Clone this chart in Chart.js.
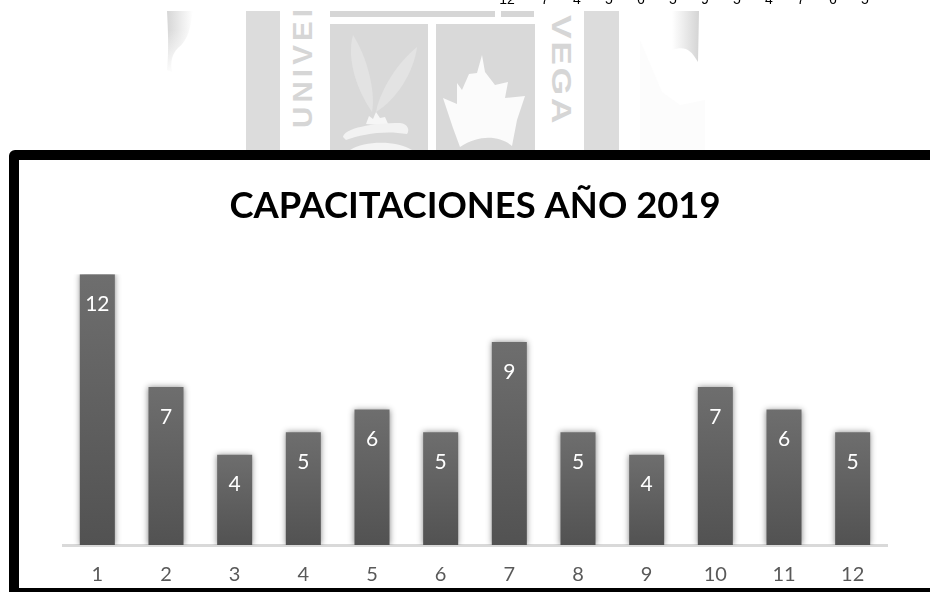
<!DOCTYPE html>
<html lang="es">
<head>
<meta charset="utf-8">
<title>Capacitaciones 2019</title>
<script src="https://cdn.jsdelivr.net/npm/chart.js@4/dist/chart.umd.min.js"></script>
<style>
    html, body { margin: 0; padding: 0; background: #fff; overflow: hidden; }
    #page { position: relative; width: 930px; height: 592px; overflow: hidden; }
    #crest { position: absolute; left: 0; top: 0; }
    #frame {
        position: absolute; left: 9px; top: 150px; width: 960px; height: 428px;
        border: 10px solid #000; border-radius: 6px; background: #fff;
    }
    #stockRow { position: absolute; left: 0; top: 0; width: 930px; height: 11px; will-change: transform; }
    #stockRow span {
        position: absolute; top: -8px; transform: translateX(-50%);
        font: 14px "Liberation Sans", sans-serif; color: #000; line-height: 14px;
    }
    #chartBox { position: absolute; left: 0; top: 0; width: 930px; height: 592px; }
</style>
</head>
<body>
<div id="page">
    <svg id="crest" width="930" height="592" xmlns="http://www.w3.org/2000/svg">
        <defs>
            <clipPath id="crestClip"><rect x="0" y="11" width="930" height="139"/></clipPath>
            <linearGradient id="ribbonL" x1="0" y1="0" x2="1" y2="0">
                <stop offset="0" stop-color="#d6d6d6"/>
                <stop offset="1" stop-color="#ffffff"/>
            </linearGradient>
            <linearGradient id="ribbonR" x1="0" y1="0" x2="1" y2="0">
                <stop offset="0" stop-color="#ffffff"/>
                <stop offset="1" stop-color="#d4d4d4"/>
            </linearGradient>
            <linearGradient id="fadeDown" x1="0" y1="0" x2="0" y2="1">
                <stop offset="0" stop-color="#ffffff" stop-opacity="0"/>
                <stop offset="1" stop-color="#ffffff" stop-opacity="1"/>
            </linearGradient>
        </defs>
        <g clip-path="url(#crestClip)">
            <path d="M167 11 H193 C190 30 188 40 178 48 C172 54 170 62 172 72 L167 70 C169 50 168 30 167 11 Z" fill="url(#ribbonL)"/>
            <rect x="160" y="30" width="40" height="45" fill="url(#fadeDown)"/>

            <path d="M640 40 L662 92 L680 105 L705 100 L705 150 L640 150 Z" fill="#fcfcfc"/>
            <path d="M672 11 H699 L698 62 C690 48 684 46 672 50 Z" fill="url(#ribbonR)"/>

            <rect x="246" y="11" width="34" height="139" fill="#dcdcdc"/>
            <rect x="584" y="11" width="35" height="139" fill="#dcdcdc"/>
            <rect x="330" y="11" width="165" height="6" fill="#d6d6d6"/>
            <rect x="501" y="11" width="33" height="6" fill="#d6d6d6"/>
            <rect x="330" y="24" width="98" height="126" fill="#d9d9d9"/>
            <rect x="436" y="24" width="99" height="126" fill="#d9d9d9"/>

            <text transform="translate(312 128) rotate(-90) scale(1.05 1)" font-family="Liberation Sans" font-weight="bold" font-size="28" letter-spacing="4" fill="#d6d6d6">UNIVER</text>
            <text transform="translate(552 15) rotate(90) scale(1.27 1)" font-family="Liberation Sans" font-weight="bold" font-size="28" letter-spacing="2" fill="#d6d6d6">VEGA</text>

            <path d="M353 35 C346 60 358 92 372 112 C376 90 366 55 353 35 Z" fill="#e3e3e3"/>
            <path d="M417 47 C398 62 380 90 376 112 C396 100 414 72 417 47 Z" fill="#e3e3e3"/>
            <path d="M366 124 L369 116 L373 119 L376 112 L380 118 L385 117 L389 126 Z" fill="#f6f6f6"/>
            <path d="M343 137 C345 128 372 123 400 123 C408 124 410 130 407 134 C385 130 362 134 346 140 Z" fill="#f2f2f2"/>
            <path d="M350 150 C365 141 395 140 412 150 Z" fill="#f4f4f4"/>

            <path d="M482 55 L485 72 L495 85 L508 82 L505 98 L525 96 L517 120 L512 146 C500 136 480 134 460 147 L453 128 L443 98 L457 104 L457 83 L462 90 L469 74 L477 73 Z" fill="#fbfbfb"/>
        </g>
    </svg>
    <div id="stockRow"></div>
    <div id="frame"></div>
    <div id="chartBox"><canvas id="trainingChart"></canvas></div>
</div>
<script>
const chartTitle = "CAPACITACIONES AÑO 2019";
const months = ["1", "2", "3", "4", "5", "6", "7", "8", "9", "10", "11", "12"];
const trainings = [12, 7, 4, 5, 6, 5, 9, 5, 4, 7, 6, 5];

const fontName = "Lato, Carlito, sans-serif";

// row of figures from the table above the chart, cut by the page edge
const stockRow = document.getElementById("stockRow");
trainings.forEach((value, i) => {
    const cell = document.createElement("span");
    cell.textContent = value;
    cell.style.left = (i === 0 ? 507 : 545 + 32 * (i - 1)) + "px";
    stockRow.appendChild(cell);
});

// each bar fades from its own top down to the axis
function barFill(context) {
    const { ctx, chartArea, scales } = context.chart;
    if (!chartArea || !context.parsed) {
        return "#5f5f5f";
    }
    const top = scales.y.getPixelForValue(context.parsed.y);
    const fill = ctx.createLinearGradient(0, top, 0, chartArea.bottom);
    fill.addColorStop(0, "#6e6e6e");
    fill.addColorStop(1, "#525252");
    return fill;
}

const barShadow = {
    id: "barShadow",
    beforeDatasetDraw(chart) {
        const ctx = chart.ctx;
        ctx.save();
        ctx.shadowColor = "rgba(0, 0, 0, 0.45)";
        ctx.shadowBlur = 6;
    },
    afterDatasetDraw(chart) {
        chart.ctx.restore();
    }
};

// value printed inside the top of each bar
const barValues = {
    id: "barValues",
    afterDatasetsDraw(chart) {
        const ctx = chart.ctx;
        const meta = chart.getDatasetMeta(0);
        ctx.save();
        ctx.fillStyle = "#ffffff";
        ctx.font = "21px " + fontName;
        ctx.textAlign = "center";
        ctx.textBaseline = "middle";
        meta.data.forEach((bar, i) => {
            ctx.fillText(trainings[i], bar.x, bar.y + 30);
        });
        ctx.restore();
    }
};

new Chart(document.getElementById("trainingChart"), {
    type: "bar",
    data: {
        labels: months,
        datasets: [{
            data: trainings,
            backgroundColor: barFill,
            borderWidth: 0,
            barPercentage: 0.51,
            categoryPercentage: 1
        }]
    },
    options: {
        responsive: true,
        maintainAspectRatio: false,
        animation: false,
        layout: { padding: { left: 63, right: 43, top: 160, bottom: -3 } },
        plugins: {
            legend: { display: false },
            tooltip: { enabled: false },
            title: {
                display: true,
                text: chartTitle,
                color: "#000000",
                font: { family: fontName, size: 36.4, weight: "bold" },
                padding: { top: 24, bottom: 46.5 }
            }
        },
        scales: {
            x: {
                grid: { display: false, tickLength: 10 },
                border: { color: "#d9d9d9", width: 3 },
                ticks: { color: "#595959", font: { family: fontName, size: 20 }, padding: 8 }
            },
            y: { display: false, min: 0, max: 12 }
        }
    },
    plugins: [barShadow, barValues]
});
</script>
</body>
</html>
